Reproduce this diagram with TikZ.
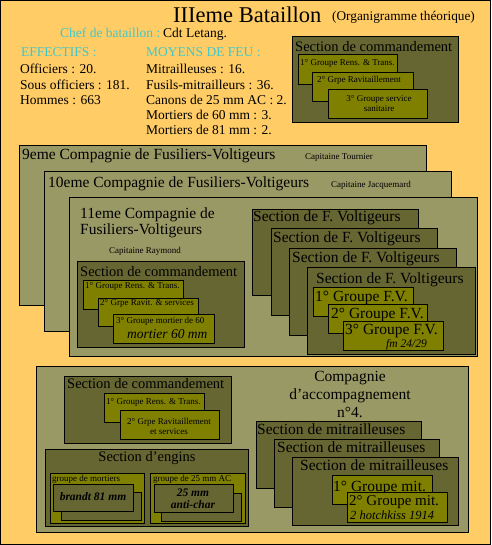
\documentclass[tikz,border=0pt]{standalone}
\usepackage{fontspec}
\setmainfont{Liberation Serif}
\definecolor{bg}{HTML}{FFCC66}
\definecolor{comp}{HTML}{999966}
\definecolor{sect}{HTML}{666633}
\definecolor{grp}{HTML}{808000}
\definecolor{tealtxt}{HTML}{40C8C8}
\newcommand\fsz[1]{\fontsize{#1}{#1}\selectfont}
\tikzset{
 compbox/.style={draw=black, line width=1pt, fill=comp},
 secbox/.style={draw=black, line width=1pt, fill=sect},
 grpbox/.style={draw=black, line width=1pt, fill=grp},
 txt/.style={inner sep=0pt, anchor=base west, text=black},
 ctxt/.style={inner sep=0pt, anchor=base, text=black},
 big/.style={font=\fsz{15.5}},
 mid/.style={font=\fsz{14.5}},
 body/.style={font=\fsz{13.5}},
 small/.style={font=\fsz{9}},
}
\begin{document}
\begin{tikzpicture}[x=1pt,y=-1pt]
\useasboundingbox (0,0) rectangle (491,545);
\fill[bg] (0,0) rectangle (491,545);
\draw[line width=1pt] (0.5,0.5) rectangle (490.5,544.5);

% ---- header
\node[txt, font=\fsz{22.5}] (title) at (173,23) {IIIeme Bataillon};
\node[txt, font=\fsz{13.3}] (subtitle) at (332,21) {(Organigramme théorique)};
\node[txt, body, text=tealtxt] (chef) at (60,38) {Chef de bataillon :};
\node[txt, body] (cdt) at (163,38) {Cdt Letang.};
\node[txt, body, text=tealtxt] (eff) at (21,57) {EFFECTIFS :};
\node[txt, body] (e1) at (20,74) {Officiers : 20.};
\node[txt, body] (e2) at (20,90) {Sous officiers : 181.};
\node[txt, body] (e3) at (20,105) {Hommes : 663};
\node[txt, body, text=tealtxt] (moy) at (146,57) {MOYENS DE FEU :};
\node[txt, body] (m1) at (146,74) {Mitrailleuses : 16.};
\node[txt, body] (m2) at (146,90) {Fusils-mitrailleurs : 36.};
\node[txt, body] (m3) at (146,105) {Canons de 25 mm AC : 2.};
\node[txt, body] (m4) at (146,120) {Mortiers de 60 mm : 3.};
\node[txt, body] (m5) at (146,135) {Mortiers de 81 mm : 2.};

% ---- top section de commandement
\draw[secbox] (292,37) rectangle (458,123);
\node[txt, mid] (tsc) at (295,52) {Section de commandement};
\draw[grpbox] (298,55) rectangle (397,85);
\node[txt, small] (tsc1) at (300,66) {1° Groupe Rens. \& Trans.};
\draw[grpbox] (312,73) rectangle (413,102);
\node[txt, small] (tsc2) at (317,83) {2° Grpe Ravitaillement};
\draw[grpbox] (328,90) rectangle (427,119);
\node[ctxt, small] (tsc3) at (379,102) {3° Groupe service};
\node[ctxt, small] (tsc3b) at (379,112) {sanitaire};

% ---- companies FV
\draw[compbox] (19,146) rectangle (426,305);
\node[txt, big] (c9) at (22,160) {9eme Compagnie de Fusiliers-Voltigeurs};
\node[txt, small] (cap9) at (305,160) {Capitaine Tournier};
\draw[compbox] (44,172) rectangle (451,331);
\node[txt, big] (c10) at (48,188) {10eme Compagnie de Fusiliers-Voltigeurs};
\node[txt, small] (cap10) at (331,188) {Capitaine Jacquemard};
\draw[compbox] (69,198) rectangle (477,356);
\node[txt, big] (c11) at (80,218) {11eme Compagnie de};
\node[txt, big] (c11b) at (80,234) {Fusiliers-Voltigeurs};
\node[txt, small] (cap11) at (109,253) {Capitaine Raymond};

% section de commandement 11eme
\draw[secbox] (77,261) rectangle (244,347);
\node[txt, mid] (sc11) at (80,276) {Section de commandement};
\draw[grpbox] (83,280) rectangle (183,309);
\node[txt, small] (sc11a) at (85,288) {1° Groupe Rens. \& Trans.};
\draw[grpbox] (98,298) rectangle (198,326);
\node[txt, small] (sc11b) at (100,305) {2° Grpe Ravit. \& services};
\draw[grpbox] (113,314) rectangle (214,343);
\node[txt, small] (sc11c) at (116,323) {3° Groupe mortier de 60};
\node[txt, font=\fsz{13.5}\itshape] (sc11d) at (127,338) {mortier 60 mm};

% sections FV
\draw[secbox] (252,209) rectangle (418,295);
\node[txt, big] (fv1) at (253,222) {Section de F. Voltigeurs};
\draw[secbox] (271,228) rectangle (437,315);
\node[txt, big] (fv2) at (273,242) {Section de F. Voltigeurs};
\draw[secbox] (289,248) rectangle (456,335);
\node[txt, big] (fv3) at (292,262) {Section de F. Voltigeurs};
\draw[secbox] (307,267) rectangle (475,354);
\node[txt, big] (fv4) at (316,283) {Section de F. Voltigeurs};
\draw[grpbox] (313,287) rectangle (413,316);
\node[txt, big] (g1) at (315,301) {1° Groupe F.V.};
\draw[grpbox] (328,304) rectangle (427,333);
\node[txt, big] (g2) at (331,318) {2° Groupe F.V.};
\draw[grpbox] (343,321) rectangle (443,350);
\node[txt, big] (g3) at (345,334) {3° Groupe F.V.};
\node[txt, font=\fsz{11.5}\itshape] (fm) at (386,347) {fm 24/29};

% ---- compagnie d'accompagnement
\draw[compbox] (36,366) rectangle (468,532);
\node[ctxt, big] (ca1) at (350,381) {Compagnie};
\node[ctxt, big] (ca2) at (350,399) {d'accompagnement};
\node[ctxt, big] (ca3) at (350,417) {n°4.};

\draw[secbox] (64,376) rectangle (231,443);
\node[txt, mid] (scb) at (67,388) {Section de commandement};
\draw[grpbox] (104,393) rectangle (204,422);
\node[txt, small] (scb1) at (106,404) {1° Groupe Rens. \& Trans.};
\draw[grpbox] (120,410) rectangle (219,439);
\node[ctxt, small] (scb2) at (169,424) {2° Grpe Ravitaillement};
\node[ctxt, small] (scb2b) at (169,434) {et services};

\draw[secbox] (256,421) rectangle (421,488);
\node[txt, big] (mi1) at (257,434) {Section de mitrailleuses};
\draw[secbox] (274,439) rectangle (439,507);
\node[txt, big] (mi2) at (277,452) {Section de mitrailleuses};
\draw[secbox] (292,457) rectangle (458,525);
\node[txt, big] (mi3) at (300,470) {Section de mitrailleuses};
\draw[grpbox] (332,475) rectangle (432,504);
\node[txt, big] (gm1) at (333,491) {1° Groupe mit.};
\draw[grpbox] (347,492) rectangle (447,522);
\node[txt, font=\fsz{15}] (gm2) at (349,505) {2° Groupe mit.};
\node[txt, font=\fsz{12.5}\itshape] (hk) at (350,519) {2 hotchkiss 1914};

% section d'engins
\draw[secbox] (45,449) rectangle (248,526);
\node[ctxt, mid] (se) at (147,461) {Section d'engins};
\draw[grpbox] (50,473) rectangle (144,523);
\node[txt, small] (gmo) at (52,481) {groupe de mortiers};
\draw[secbox] (61,492) rectangle (141,520);
\draw[secbox] (53,484) rectangle (133,511);
\node[ctxt, font=\fsz{11.5}\bfseries\itshape] (br) at (93,500) {brandt 81 mm};
\draw[grpbox] (150,473) rectangle (245,523);
\node[txt, small] (gac) at (153,481) {groupe de 25 mm AC};
\draw[secbox] (161,493) rectangle (241,521);
\draw[secbox] (154,484) rectangle (233,512);
\node[ctxt, font=\fsz{11.5}\bfseries\itshape] (ac1) at (193,496) {25 mm};
\node[ctxt, font=\fsz{11.5}\bfseries\itshape] (ac2) at (193,508) {anti-char};
\end{tikzpicture}
\end{document}
